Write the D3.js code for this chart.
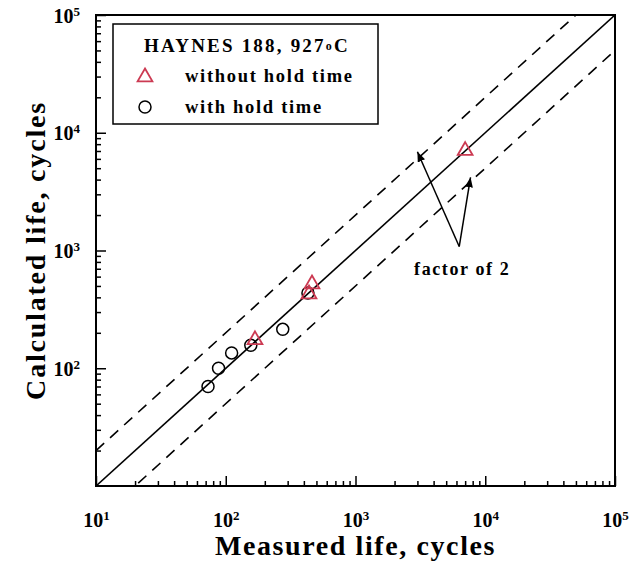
<!DOCTYPE html>
<html>
<head>
<meta charset="utf-8">
<script src="https://cdn.jsdelivr.net/npm/d3@7"></script>
<style>
  body { margin: 0; background: #fff; }
  text { font-family: "Liberation Serif", "Times New Roman", serif; font-weight: bold; }
</style>
</head>
<body>
<div id="chart"></div>
<script>
// Measured vs calculated fatigue life, HAYNES 188 at 927C
const decades = [10, 100, 1000, 10000, 100000];
const withoutHoldMeasured = [168, 438, 462, 7000];
const withoutHoldCalculated = [174, 427, 519, 7040];
const withHoldMeasured = [73, 88, 111, 156, 275, 430];
const withHoldCalculated = [70, 100, 135, 157, 214, 436];
const factorLines = [1, 2, 0.5];
const arrowApex = [6300, 1080];
const arrowTips = [[3000, 6900], [7700, 4180]];

function drawChart() {
  const width = 630;
  const height = 569;
  const margin = { left: 96, right: 15, top: 15, bottom: 83 };

  const svg = d3
    .select('#chart')
    .append('svg')
    .attr('width', width)
    .attr('height', height);

  const x = d3.scaleLog().domain([10, 1e5]).range([margin.left, width - margin.right]);
  const y = d3.scaleLog().domain([10, 1e5]).range([height - margin.bottom, margin.top]);

  const defs = svg.append('defs');
  defs
    .append('marker')
    .attr('id', 'arrow')
    .attr('viewBox', '0 0 10 8')
    .attr('refX', 10)
    .attr('refY', 4)
    .attr('markerWidth', 10)
    .attr('markerHeight', 8)
    .attr('markerUnits', 'userSpaceOnUse')
    .attr('orient', 'auto')
    .append('path')
    .attr('d', 'M0,0L10,4L0,8Z')
    .attr('fill', '#000');

  defs
    .append('clipPath')
    .attr('id', 'plot-clip')
    .append('rect')
    .attr('x', x(10))
    .attr('y', y(1e5))
    .attr('width', x(1e5) - x(10))
    .attr('height', y(10) - y(1e5));

  // 1:1 and factor-of-2 lines
  svg
    .append('g')
    .attr('clip-path', 'url(#plot-clip)')
    .selectAll('line')
    .data(factorLines)
    .enter()
    .append('line')
    .attr('x1', x(10))
    .attr('y1', (f) => y(10 * f))
    .attr('x2', x(1e5))
    .attr('y2', (f) => y(1e5 * f))
    .attr('stroke', '#000')
    .attr('stroke-width', 1.6)
    .attr('stroke-dasharray', (f) => (f === 1 ? null : '11,8'));

  // axes: minor and major ticks, pointing inward
  const minorTicks = x.ticks().filter((v) => !decades.includes(v));
  const bottom = height - margin.bottom;

  svg
    .append('g')
    .attr('transform', `translate(0,${bottom})`)
    .call(d3.axisBottom(x).tickValues(minorTicks).tickSize(-5).tickFormat(''))
    .call((g) => g.select('.domain').remove());
  svg
    .append('g')
    .attr('transform', `translate(${margin.left},0)`)
    .call(d3.axisLeft(y).tickValues(minorTicks).tickSize(-5).tickFormat(''))
    .call((g) => g.select('.domain').remove());

  const xMajor = svg
    .append('g')
    .attr('transform', `translate(0,${bottom})`)
    .call(d3.axisBottom(x).tickValues(decades).tickSize(-10).tickPadding(0).tickFormat(''))
    .call((g) => g.select('.domain').remove());
  const yMajor = svg
    .append('g')
    .attr('transform', `translate(${margin.left},0)`)
    .call(d3.axisLeft(y).tickValues(decades.slice(1)).tickSize(-10).tickFormat(''))
    .call((g) => g.select('.domain').remove());

  svg.selectAll('.tick line').attr('stroke', '#000').attr('stroke-width', 1.5);

  function powerLabel(sel) {
    sel.append('tspan').text('10');
    sel
      .append('tspan')
      .attr('font-size', 13)
      .attr('dy', -7)
      .text((d) => Math.round(Math.log10(d)));
  }

  xMajor
    .selectAll('.tick text')
    .attr('y', 41)
    .attr('dy', null)
    .attr('font-size', 20)
    .attr('fill', '#000')
    .attr('text-anchor', 'middle')
    .call(powerLabel);
  yMajor
    .selectAll('.tick text')
    .attr('x', -16)
    .attr('dy', 7)
    .attr('font-size', 20)
    .attr('fill', '#000')
    .attr('text-anchor', 'end')
    .call(powerLabel);

  // frame
  svg
    .append('rect')
    .attr('x', x(10))
    .attr('y', y(1e5))
    .attr('width', x(1e5) - x(10))
    .attr('height', y(10) - y(1e5))
    .attr('fill', 'none')
    .attr('stroke', '#000')
    .attr('stroke-width', 2);

  // data points
  const red = '#cc3a52';
  const tri = d3.symbol().type(d3.symbolTriangle).size(95);

  svg
    .append('g')
    .selectAll('circle')
    .data(withHoldMeasured)
    .enter()
    .append('circle')
    .attr('cx', (d) => x(d))
    .attr('cy', (_d, i) => y(withHoldCalculated[i]))
    .attr('r', 6)
    .attr('fill', 'none')
    .attr('stroke', '#000')
    .attr('stroke-width', 1.5);

  svg
    .append('g')
    .selectAll('path')
    .data(withoutHoldMeasured)
    .enter()
    .append('path')
    .attr('d', tri)
    .attr('transform', (d, i) => `translate(${x(d)},${y(withoutHoldCalculated[i])})`)
    .attr('fill', 'none')
    .attr('stroke', red)
    .attr('stroke-width', 1.8);

  // factor of 2 annotation
  arrowTips.forEach((tip) => {
    svg
      .append('line')
      .attr('x1', x(arrowApex[0]))
      .attr('y1', y(arrowApex[1]))
      .attr('x2', x(tip[0]))
      .attr('y2', y(tip[1]))
      .attr('stroke', '#000')
      .attr('stroke-width', 1.5)
      .attr('marker-end', 'url(#arrow)');
  });
  svg
    .append('text')
    .attr('x', x(arrowApex[0]) + 3)
    .attr('y', y(arrowApex[1]) + 28)
    .attr('text-anchor', 'middle')
    .attr('font-size', 18)
    .attr('letter-spacing', 1.6)
    .text('factor of 2');

  // legend
  const legend = svg.append('g');
  legend
    .append('rect')
    .attr('x', 113)
    .attr('y', 24)
    .attr('width', 265)
    .attr('height', 100)
    .attr('fill', '#fff')
    .attr('stroke', '#000')
    .attr('stroke-width', 1.5);
  const title = legend
    .append('text')
    .attr('x', 247)
    .attr('y', 52)
    .attr('text-anchor', 'middle')
    .attr('font-size', 19)
    .attr('letter-spacing', 2.2);
  title.append('tspan').text('HAYNES 188, 927');
  title.append('tspan').attr('font-size', 12).attr('dy', -2).text('o');
  title.append('tspan').attr('dy', 2).text('C');

  legend
    .append('path')
    .attr('d', tri)
    .attr('transform', 'translate(145,77)')
    .attr('fill', 'none')
    .attr('stroke', red)
    .attr('stroke-width', 1.8);
  legend
    .append('circle')
    .attr('cx', 145)
    .attr('cy', 107)
    .attr('r', 6)
    .attr('fill', 'none')
    .attr('stroke', '#000')
    .attr('stroke-width', 1.5);
  legend
    .selectAll('text.item')
    .data(['without hold time', 'with hold time'])
    .enter()
    .append('text')
    .attr('class', 'item')
    .attr('x', 185)
    .attr('y', (_d, i) => 82 + i * 31)
    .attr('font-size', 18.5)
    .attr('letter-spacing', 1.7)
    .text((d) => d);

  // axis titles
  svg
    .append('text')
    .attr('x', (x(10) + x(1e5)) / 2)
    .attr('y', 555)
    .attr('text-anchor', 'middle')
    .attr('font-size', 28)
    .attr('letter-spacing', 1.6)
    .text('Measured life, cycles');
  svg
    .append('text')
    .attr('transform', `translate(45,${(y(10) + y(1e5)) / 2}) rotate(-90)`)
    .attr('text-anchor', 'middle')
    .attr('font-size', 28)
    .attr('letter-spacing', 1.8)
    .text('Calculated life, cycles');
}

document.addEventListener('DOMContentLoaded', drawChart);
</script>
</body>
</html>
